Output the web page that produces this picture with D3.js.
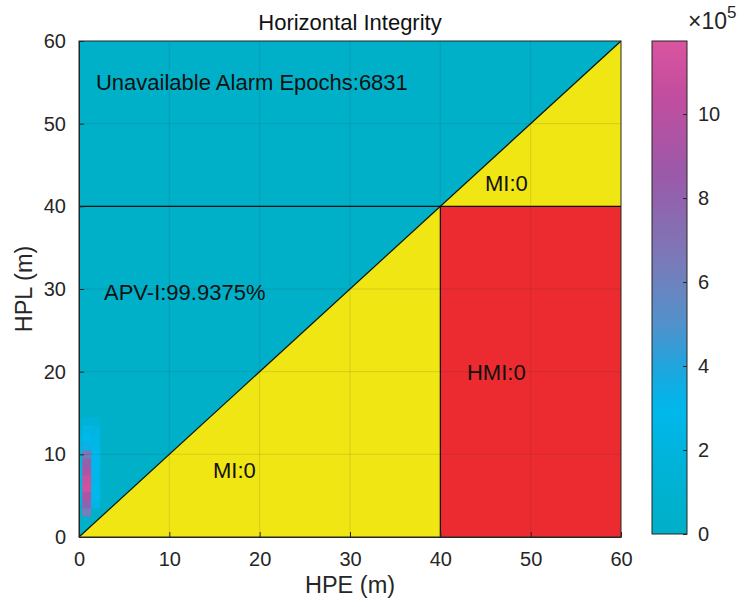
<!DOCTYPE html>
<html>
<head>
<meta charset="utf-8">
<script src="https://d3js.org/d3.v7.min.js"></script>
<style>
  body { margin: 0; background: #fff; }
  svg { font-family: "Liberation Sans", Arial, sans-serif; }
  .tick text { fill: #262626; font-size: 20px; }
</style>
</head>
<body>
<svg id="chart" width="744" height="607"></svg>
<script>
// axis limits and alarm limit (m)
const axisMax = 60;
const alarmLimit = 40;
const xTicks = [0, 10, 20, 30, 40, 50, 60];
const yTicks = [0, 10, 20, 30, 40, 50, 60];
const cbTicks = [0, 2, 4, 6, 8, 10];   // x 10^5
const cbMax = 11.74;

// heatmap cells: HPE bin start, HPL bin start, count (x 10^5)
const cellHPE = [0.35, 0.35, 0.35, 0.35, 0.35, 0.35, 0.35, 0.35,
                 0.35, 0.35, 0.35, 0.35,
                 1.35, 1.35, 1.35, 1.35, 1.35, 1.35, 1.35, 1.35, 1.35, 1.35, 1.35,
                 0, 0, 0, 0, 0, 0, 0, 0, 0];
const cellHPL = [2.5, 3.5, 4.5, 5.5, 6.5, 7.5, 8.5, 9.5,
                 10.5, 11.5, 12.5, 13.5,
                 3.5, 4.5, 5.5, 6.5, 7.5, 8.5, 9.5, 10.5, 11.5, 12.5, 13.5,
                 4, 5, 6, 7, 8, 9, 10, 11, 12];
const cellVal = [6.2, 8.0, 9.6, 11.2, 11.0, 9.4, 8.2, 6.6,
                 3.4, 2.9, 2.5, 1.6,
                 2.6, 2.9, 3.0, 3.1, 3.1, 3.0, 2.9, 2.8, 2.6, 2.2, 1.4,
                 1.6, 1.9, 2.1, 2.2, 2.2, 2.1, 1.9, 1.6, 1.2];

// region labels
const labelText = ["Unavailable Alarm Epochs:6831", "APV-I:99.9375%", "MI:0", "HMI:0", "MI:0"];
const labelX = [1.88, 2.77, 44.95, 42.95, 14.83];
const labelY = [55.0, 29.6, 42.8, 19.85, 8.1];

const colTeal = "#00b0c8", colYellow = "#f0e614", colRed = "#eb2b30";

const svg = d3.select("#chart");
const m = { left: 79, right: 621, top: 41, bottom: 537 };
const x = d3.scaleLinear().domain([0, axisMax]).range([m.left, m.right]);
const y = d3.scaleLinear().domain([0, axisMax]).range([m.bottom, m.top]);

const cmap = d3.scaleLinear()
  .domain([0, 1.5, 3.0, 4.0, 5.0, 6.5, 8.5, 10.5, cbMax])
  .range(["#00b0c8", "#00b2d6", "#00b8ec", "#1fa4dc", "#5292cc", "#7a7ab8", "#9a5aaa", "#c44d9e", "#d9559f"])
  .clamp(true);

// regions
svg.append("rect").attr("x", x(0)).attr("y", y(axisMax))
  .attr("width", x(axisMax) - x(0)).attr("height", y(0) - y(axisMax)).attr("fill", colTeal);
const poly = pts => pts.map(p => [x(p[0]), y(p[1])].join(",")).join(" ");
svg.append("polygon").attr("points", poly([[0, 0], [alarmLimit, alarmLimit], [alarmLimit, 0]])).attr("fill", colYellow);
svg.append("polygon").attr("points", poly([[alarmLimit, alarmLimit], [axisMax, axisMax], [axisMax, alarmLimit]])).attr("fill", colYellow);
svg.append("rect").attr("x", x(alarmLimit)).attr("y", y(alarmLimit))
  .attr("width", x(axisMax) - x(alarmLimit)).attr("height", y(0) - y(alarmLimit)).attr("fill", colRed);

// heatmap cells
const cells = cellVal.map((v, i) => ({ hpe: cellHPE[i], hpl: cellHPL[i], v }));
svg.append("g").selectAll("rect").data(cells).join("rect")
  .attr("x", d => x(d.hpe))
  .attr("y", d => y(d.hpl + 1))
  .attr("width", d => x(d.hpe === 0 ? 0.35 : d.hpe + 1) - x(d.hpe))
  .attr("height", d => y(d.hpl) - y(d.hpl + 1) + 0.3)
  .attr("fill", d => cmap(d.v));

// grid
const grid = svg.append("g").attr("stroke", "#262626").attr("stroke-opacity", 0.12).attr("stroke-width", 1);
xTicks.slice(1, -1).forEach(t => grid.append("line").attr("x1", x(t)).attr("x2", x(t)).attr("y1", y(0)).attr("y2", y(axisMax)));
yTicks.slice(1, -1).forEach(t => grid.append("line").attr("y1", y(t)).attr("y2", y(t)).attr("x1", x(0)).attr("x2", x(axisMax)));

// boundary lines
const bl = svg.append("g").attr("stroke", "#111").attr("stroke-width", 1.2);
bl.append("line").attr("x1", x(0)).attr("y1", y(0)).attr("x2", x(axisMax)).attr("y2", y(axisMax));
bl.append("line").attr("x1", x(0)).attr("y1", y(alarmLimit)).attr("x2", x(axisMax)).attr("y2", y(alarmLimit));
bl.append("line").attr("x1", x(alarmLimit)).attr("y1", y(0)).attr("x2", x(alarmLimit)).attr("y2", y(alarmLimit));

// labels
svg.append("g").selectAll("text").data(labelText).join("text")
  .attr("x", (d, i) => x(labelX[i])).attr("y", (d, i) => y(labelY[i]))
  .attr("font-size", 22).attr("fill", "#111").attr("dominant-baseline", "central")
  .text(d => d);

// axes
const xAxis = svg.append("g").attr("transform", `translate(0,${m.bottom})`)
  .call(d3.axisBottom(x).tickValues(xTicks).tickSize(-5).tickPadding(15).tickSizeOuter(0));
const yAxis = svg.append("g").attr("transform", `translate(${m.left},0)`)
  .call(d3.axisLeft(y).tickValues(yTicks).tickSize(-5).tickPadding(13).tickSizeOuter(0));
[xAxis, yAxis].forEach(a => { a.select(".domain").attr("stroke", "#262626"); a.selectAll(".tick line").attr("stroke", "#262626"); });
svg.append("rect").attr("x", m.left).attr("y", m.top).attr("width", m.right - m.left).attr("height", m.bottom - m.top)
  .attr("fill", "none").attr("stroke", "#262626").attr("stroke-width", 1);

svg.append("text").attr("x", (m.left + m.right) / 2).attr("y", 30).attr("text-anchor", "middle")
  .attr("font-size", 22).attr("fill", "#111").text("Horizontal Integrity");
svg.append("text").attr("x", (m.left + m.right) / 2).attr("y", 593).attr("text-anchor", "middle")
  .attr("font-size", 23.5).attr("fill", "#262626").text("HPE (m)");
svg.append("text").attr("transform", `translate(32,${(m.top + m.bottom) / 2}) rotate(-90)`).attr("text-anchor", "middle")
  .attr("font-size", 23.5).attr("fill", "#262626").text("HPL (m)");

// colorbar
const cb = { left: 652, right: 687, top: 41, bottom: 534 };
const cy = d3.scaleLinear().domain([0, cbMax]).range([cb.bottom, cb.top]);
const defs = svg.append("defs");
const grad = defs.append("linearGradient").attr("id", "cbgrad").attr("x1", 0).attr("y1", 1).attr("x2", 0).attr("y2", 0);
d3.range(0, 41).forEach(i => {
  const v = cbMax * i / 40;
  grad.append("stop").attr("offset", i / 40).attr("stop-color", cmap(v));
});
svg.append("rect").attr("x", cb.left).attr("y", cb.top).attr("width", cb.right - cb.left).attr("height", cb.bottom - cb.top)
  .attr("fill", "url(#cbgrad)").attr("stroke", "#262626").attr("stroke-width", 1);
const cAxis = svg.append("g").attr("transform", `translate(${cb.right},0)`)
  .call(d3.axisRight(cy).tickValues(cbTicks).tickSize(-4).tickPadding(11).tickSizeOuter(0));
cAxis.select(".domain").remove();
cAxis.selectAll(".tick line").attr("stroke", "#262626");
const ex = svg.append("text").attr("x", 688).attr("y", 29).attr("font-size", 23).attr("fill", "#262626");
ex.append("tspan").text("\u00d710");
ex.append("tspan").attr("dy", -11).attr("font-size", 17).text("5");
</script>
</body>
</html>
